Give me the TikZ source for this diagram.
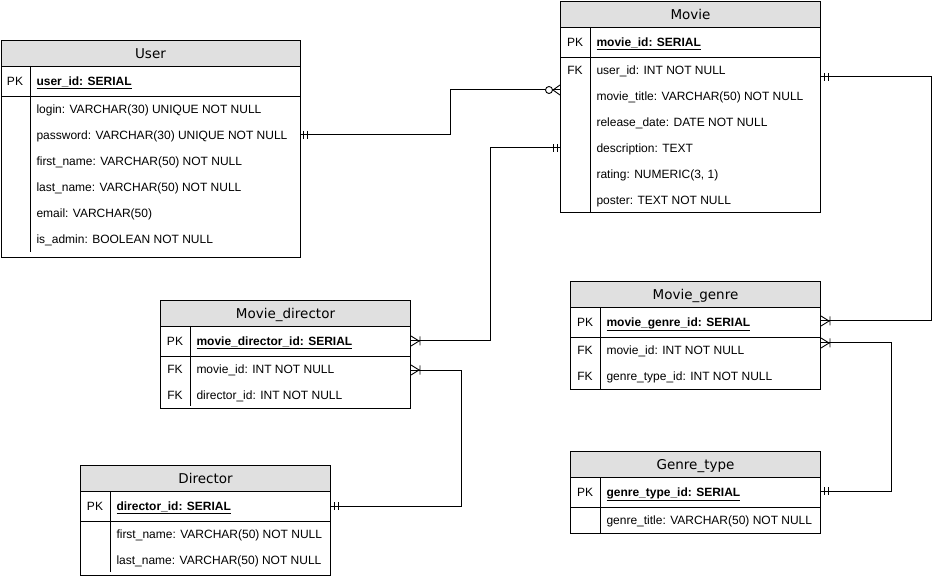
\documentclass[tikz,border=0pt]{standalone}
\usepackage{fontspec}
\setmainfont{Liberation Sans}
\newfontfamily\hdrfont{DejaVu Sans}
\definecolor{hdrgray}{HTML}{E0E0E0}
\begin{document}
\begin{tikzpicture}[x=1pt,y=-1pt,line width=1pt,
  tbl/.style={draw,anchor=north west,inner sep=0pt,fill=white},
  hdr/.style={draw,fill=hdrgray,anchor=north west,inner sep=0pt,minimum height=26pt,
    text height=9.8pt,text depth=0pt,font=\hdrfont\fontsize{13.5}{16}\selectfont},
  pkrow/.style={draw,anchor=north west,inner sep=0pt,minimum height=30pt},
  fld/.style={anchor=west,inner sep=0pt,text height=8.6pt,text depth=0pt,font=\fontsize{12}{14}\selectfont},
  key/.style={anchor=center,inner sep=0pt,text height=8.6pt,text depth=0pt,font=\fontsize{12}{14}\selectfont},
  conn/.style={draw,line width=1pt},
  mone/.pic={\draw[line width=0.9pt] (3,-4)--(3,4) (7,-4)--(7,4);},
  omany/.pic={\draw[line width=0.9pt] (0,-5)--(8,0)--(0,5) (9,-4.5)--(9,4.5);},
  zmany/.pic={\draw[line width=0.9pt] (0,-5)--(7,0)--(0,5); \draw[line width=0.9pt,fill=white] (11,0) circle (3.5);}
]
\useasboundingbox (0,0) rectangle (940,577);

% ---------------- User
\node[tbl,minimum width=299pt,minimum height=217pt] (user) at (0.5,40) {};
\node[hdr,minimum width=299pt] (userh) at (0.5,40) {User};
\node[pkrow,minimum width=299pt] (userpkr) at (0.5,66) {};
\draw ([xshift=29.5pt]userpkr.north west) -- ++(0,186);
\node[key] (userpkk) at (15,81) {PK};
\node[fld] (userpk) at (36,81) {\underline{\textbf{user\_id: SERIAL}}};
\node[fld] (userlg) at (36,109) {login: VARCHAR(30) UNIQUE NOT NULL};
\node[fld] (userpw) at (36,135) {password: VARCHAR(30) UNIQUE NOT NULL};
\node[fld] (userfn) at (36,161) {first\_name: VARCHAR(50) NOT NULL};
\node[fld] (userln) at (36,187) {last\_name: VARCHAR(50) NOT NULL};
\node[fld] (userem) at (36,213) {email: VARCHAR(50)};
\node[fld] (userad) at (36,239) {is\_admin: BOOLEAN NOT NULL};

% ---------------- Movie
\node[tbl,minimum width=260pt,minimum height=211pt] (movie) at (560,1) {};
\node[hdr,minimum width=260pt] (movieh) at (560,1) {Movie};
\node[pkrow,minimum width=260pt] (moviepkr) at (560,27) {};
\draw ([xshift=30pt]moviepkr.north west) -- ++(0,185);
\node[key] (moviepkk) at (575,42) {PK};
\node[fld] (moviepk) at (596,42) {\underline{\textbf{movie\_id: SERIAL}}};
\node[key] (moviefkk) at (575,70) {FK};
\node[fld] (movieu) at (596,70) {user\_id: INT NOT NULL};
\node[fld] (moviet) at (596,96) {movie\_title: VARCHAR(50) NOT NULL};
\node[fld] (movier) at (596,122) {release\_date: DATE NOT NULL};
\node[fld] (movied) at (596,148) {description: TEXT};
\node[fld] (moviera) at (596,174) {rating: NUMERIC(3, 1)};
\node[fld] (moviepo) at (596,200) {poster: TEXT NOT NULL};

% ---------------- Movie_director
\node[tbl,minimum width=250pt,minimum height=108pt] (md) at (160,300) {};
\node[hdr,minimum width=250pt] (mdh) at (160,300) {Movie\_director};
\node[pkrow,minimum width=250pt] (mdpkr) at (160,326) {};
\draw ([xshift=30pt]mdpkr.north west) -- ++(0,80);
\node[key] (mdpkk) at (175,341) {PK};
\node[fld] (mdpk) at (196,341) {\underline{\textbf{movie\_director\_id: SERIAL}}};
\node[key] (mdfk1) at (175,369) {FK};
\node[fld] (mdf1) at (196,369) {movie\_id: INT NOT NULL};
\node[key] (mdfk2) at (175,395) {FK};
\node[fld] (mdf2) at (196,395) {director\_id: INT NOT NULL};

% ---------------- Director
\node[tbl,minimum width=250pt,minimum height=110pt] (dir) at (80,465) {};
\node[hdr,minimum width=250pt] (dirh) at (80,465) {Director};
\node[pkrow,minimum width=250pt] (dirpkr) at (80,491) {};
\draw ([xshift=30pt]dirpkr.north west) -- ++(0,81);
\node[key] (dirpkk) at (95,506) {PK};
\node[fld] (dirpk) at (116,506) {\underline{\textbf{director\_id: SERIAL}}};
\node[fld] (dirfn) at (116,534) {first\_name: VARCHAR(50) NOT NULL};
\node[fld] (dirln) at (116,560) {last\_name: VARCHAR(50) NOT NULL};

% ---------------- Movie_genre
\node[tbl,minimum width=250pt,minimum height=108pt] (mg) at (570,281) {};
\node[hdr,minimum width=250pt] (mgh) at (570,281) {Movie\_genre};
\node[pkrow,minimum width=250pt] (mgpkr) at (570,307) {};
\draw ([xshift=30pt]mgpkr.north west) -- ++(0,82);
\node[key] (mgpkk) at (585,322) {PK};
\node[fld] (mgpk) at (606,322) {\underline{\textbf{movie\_genre\_id: SERIAL}}};
\node[key] (mgfk1) at (585,350) {FK};
\node[fld] (mgf1) at (606,350) {movie\_id: INT NOT NULL};
\node[key] (mgfk2) at (585,376) {FK};
\node[fld] (mgf2) at (606,376) {genre\_type\_id: INT NOT NULL};

% ---------------- Genre_type
\node[tbl,minimum width=250pt,minimum height=82pt] (gt) at (570,451) {};
\node[hdr,minimum width=250pt] (gth) at (570,451) {Genre\_type};
\node[pkrow,minimum width=250pt] (gtpkr) at (570,477) {};
\draw ([xshift=30pt]gtpkr.north west) -- ++(0,56);
\node[key] (gtpkk) at (585,492) {PK};
\node[fld] (gtpk) at (606,492) {\underline{\textbf{genre\_type\_id: SERIAL}}};
\node[fld] (gtf1) at (606,520) {genre\_title: VARCHAR(50) NOT NULL};

% ---------------- connector ends
\coordinate (e1a) at (userpw -| user.east);
\coordinate (e1b) at ([yshift=-89pt]movie.north west);
\coordinate (e2a) at ([yshift=-147pt]movie.north west);
\coordinate (e2b) at (mdpk -| md.east);
\coordinate (e3a) at ([yshift=-76pt]movie.north east);
\coordinate (e3b) at ([yshift=-40pt]mg.north east);
\coordinate (e4a) at ([yshift=-62pt]mg.north east);
\coordinate (e4b) at ([yshift=-40pt]gt.north east);
\coordinate (e5a) at ([yshift=-70pt]md.north east);
\coordinate (e5b) at (dirpk -| dir.east);

% ---------------- connectors
\draw[conn] (e1a) -- ++(150,0) |- (e1b);
\draw[conn] (e2a) -- ++(-70,0) |- (e2b);
\draw[conn] (e3a) -- ++(110,0) |- (e3b);
\draw[conn] (e4a) -- ++(70,0) |- (e4b);
\draw[conn] (e5a) -- ++(50,0) |- (e5b);

% ---------------- markers
\pic at (e1a) {mone};
\pic[rotate=180] at (e1b) {zmany};
\pic[rotate=180] at (e2a) {mone};
\pic at (e2b) {omany};
\pic at (e3a) {mone};
\pic at (e3b) {omany};
\pic at (e4a) {omany};
\pic at (e4b) {mone};
\pic at (e5a) {omany};
\pic at (e5b) {mone};
\end{tikzpicture}
\end{document}
